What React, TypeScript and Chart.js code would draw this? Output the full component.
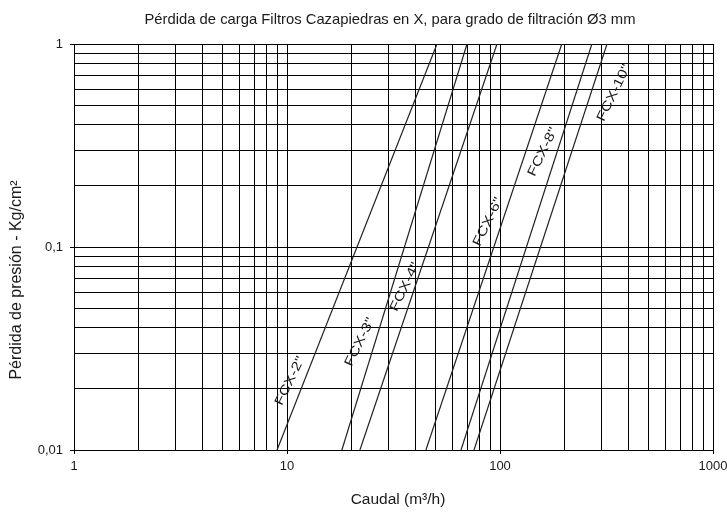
import React, { useEffect, useRef } from 'react';
import { Chart, registerables } from 'chart.js';

Chart.register(...registerables);

// Series (straight lines on log-log paper): flow (m³/h) at 0,01 and at 1 Kg/cm²
const seriesNames = ['FCX-2"', 'FCX-3"', 'FCX-4"', 'FCX-6"', 'FCX-8"', 'FCX-10"'];
const flowAtLow = [8.98, 18.1, 22.0, 44.9, 65.6, 75.5];
const flowAtHigh = [50.6, 70.0, 96.8, 195, 270, 318];
const lossLow = [0.01, 0.01, 0.01, 0.01, 0.01, 0.01];
const lossHigh = [1, 1, 1, 1, 1, 1];

// Label anchor points (data coordinates)
const labelFlow = [10.33, 22.0, 35.8, 87.9, 159, 343];
const labelLoss = [0.0219, 0.034, 0.0636, 0.133, 0.294, 0.574];

// Axes
const xTickLabels = [1, 10, 100, 1000];
const yTickLabels = [0.01, 0.1, 1];
const decadeSteps = [1, 2, 3, 4, 5, 6, 7, 8, 9];

const titleText = 'Pérdida de carga Filtros Cazapiedras en X, para grado de filtración Ø3 mm';
const xTitle = 'Caudal (m³/h)';
const yTitle = 'Pérdida de presión - Kg/cm²';

const FONT = '"Liberation Sans", Arial, Helvetica, sans-serif';

function gridValues(decades: number[]): number[] {
  const out: number[] = [];
  for (let i = 0; i < decades.length - 1; i++) {
    decadeSteps.forEach((m) => out.push(parseFloat((decades[i] * m).toPrecision(6))));
  }
  out.push(decades[decades.length - 1]);
  return out;
}

function isIn(list: number[], v: number) {
  return list.some((l) => Math.abs(l - v) / l < 1e-6);
}

const annotPlugin = {
  id: 'annotPlugin',
  afterDatasetsDraw(chart: any) {
    const { ctx, scales } = chart;
    const xs = scales.x;
    const ys = scales.y;
    ctx.save();
    ctx.fillStyle = '#1a1a1a';
    ctx.font = '13px ' + FONT;
    ctx.textAlign = 'center';
    ctx.textBaseline = 'middle';
    seriesNames.forEach((name, i) => {
      const px = xs.getPixelForValue(labelFlow[i]);
      const py = ys.getPixelForValue(labelLoss[i]);
      ctx.save();
      ctx.translate(px, py);
      ctx.rotate((-64 * Math.PI) / 180);
      ctx.scale(1.25, 1);
      ctx.fillText(name, 0, 0);
      ctx.restore();
    });
    ctx.restore();
  },
  afterDraw(chart: any) {
    const { ctx } = chart;
    ctx.save();
    ctx.fillStyle = '#1a1a1a';
    ctx.textAlign = 'center';
    ctx.textBaseline = 'middle';
    ctx.font = '14.8px ' + FONT;
    ctx.fillText(titleText, 390, 20);
    ctx.font = '15.5px ' + FONT;
    ctx.fillText(xTitle, 398, 500);
    ctx.font = '16px ' + FONT;
    ctx.translate(17, 280);
    ctx.rotate(-Math.PI / 2);
    ctx.fillText(yTitle, 0, 0);
    ctx.restore();
  },
};

export default function App() {
  const ref = useRef<HTMLCanvasElement | null>(null);

  useEffect(() => {
    if (!ref.current) return;
    const xGrid = gridValues(xTickLabels);
    const yGrid = gridValues(yTickLabels);

    const datasets = seriesNames.map((name, i) => ({
      label: name,
      data: [
        { x: flowAtLow[i], y: lossLow[i] },
        { x: flowAtHigh[i], y: lossHigh[i] },
      ],
      borderColor: '#222',
      borderWidth: 1.2,
      pointRadius: 0,
      fill: false,
      tension: 0,
    }));

    const chart = new Chart(ref.current, {
      type: 'line',
      data: { datasets },
      plugins: [annotPlugin],
      options: {
        animation: false,
        responsive: false,
        devicePixelRatio: 1,
        layout: { padding: { left: 0, right: 14, top: 44, bottom: 0 } },
        plugins: {
          legend: { display: false },
          tooltip: { enabled: false },
          title: { display: false },
        },
        scales: {
          x: {
            type: 'logarithmic',
            min: 1,
            max: 1000,
            afterBuildTicks: (scale: any) => {
              scale.ticks = xGrid.map((v) => ({ value: v, major: isIn(xTickLabels, v) }));
            },
            afterFit: (scale: any) => {
              scale.height = 63;
              scale.paddingLeft = 0;
              scale.paddingRight = 0;
            },
            ticks: {
              autoSkip: false,
              maxRotation: 0,
              padding: 5,
              color: '#1a1a1a',
              font: { family: FONT, size: 13 },
              callback: (v: any) => (isIn(xTickLabels, Number(v)) ? String(v) : ''),
            },
            grid: {
              color: '#000',
              lineWidth: 1,
              tickLength: 4,
              tickColor: (c: any) => (c.tick && isIn(xTickLabels, c.tick.value) ? '#000' : 'rgba(0,0,0,0)'),
            },
            border: { display: true, color: '#000', width: 1 },
          },
          y: {
            type: 'logarithmic',
            min: 0.01,
            max: 1,
            afterBuildTicks: (scale: any) => {
              scale.ticks = yGrid.map((v) => ({ value: v, major: isIn(yTickLabels, v) }));
            },
            afterFit: (scale: any) => {
              scale.width = 74;
            },
            ticks: {
              autoSkip: false,
              padding: 7,
              color: '#1a1a1a',
              font: { family: FONT, size: 13 },
              callback: (v: any) => (isIn(yTickLabels, Number(v)) ? String(v).replace('.', ',') : ''),
            },
            grid: {
              color: '#000',
              lineWidth: 1,
              tickLength: 4,
              tickColor: (c: any) => (c.tick && isIn(yTickLabels, c.tick.value) ? '#000' : 'rgba(0,0,0,0)'),
            },
            border: { display: true, color: '#000', width: 1 },
          },
        },
      },
    } as any);

    return () => chart.destroy();
  }, []);

  return (
    <div style={{ position: 'absolute', left: 0, top: 0, width: 727, height: 513, background: '#fff' }}>
      <canvas ref={ref} width={727} height={513} style={{ display: 'block', width: 727, height: 513 }} />
    </div>
  );
}
